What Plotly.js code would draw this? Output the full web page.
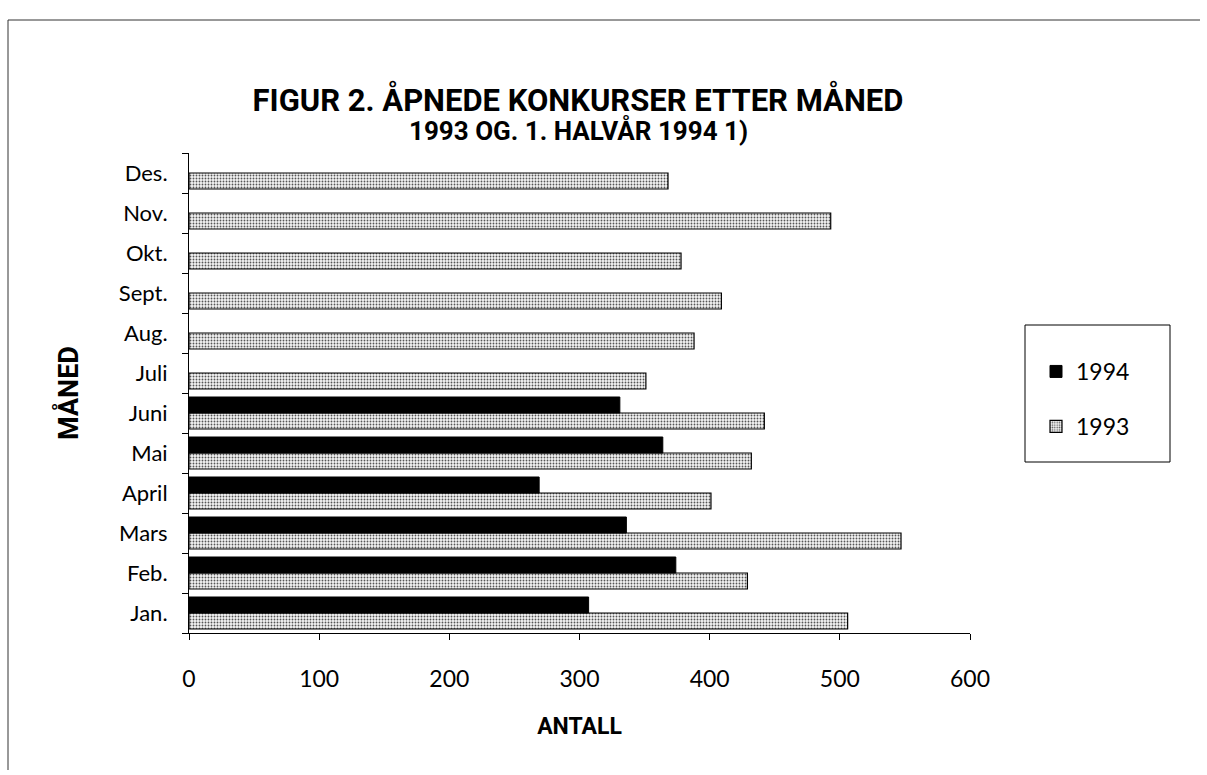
<!DOCTYPE html>
<html>
<head>
<meta charset="utf-8">
<script src="https://cdn.plot.ly/plotly-3.0.1.min.js"></script>
<style>html,body{margin:0;padding:0;background:#fff;}#chart{width:1207px;height:775px;}</style>
</head>
<body>
<div id="chart"></div>
<script>
// Data
const months = ["Jan.", "Feb.", "Mars", "April", "Mai", "Juni", "Juli", "Aug.", "Sept.", "Okt.", "Nov.", "Des."];
const values1993 = [506, 429, 547, 401, 432, 442, 351, 388, 409, 378, 493, 368];
const values1994 = [307, 374, 336, 269, 364, 331, null, null, null, null, null, null];
const xTicks = [0, 100, 200, 300, 400, 500, 600];
const titleText = 'FIGUR 2. ÅPNEDE KONKURSER ETTER MÅNED';
const subtitleText = '1993 OG. 1. HALVÅR 1994 1)';

// Layout geometry (pixels)
const W = 1207, H = 775;
const L = 189, R = 237, T = 153, B = 142;
const PW = W - L - R, PH = H - T - B;
const px = v => (v - L) / PW;
const py = v => (H - B - v) / PH;

const traces = [
  {
    type: 'bar', orientation: 'h', name: '1993', legendgroup: 'g1993', legendrank: 2,
    y: months, x: values1993,
    marker: {
      color: '#e6e6e6',
      line: {color: '#000', width: 1.2},
      pattern: {shape: '.', bgcolor: '#f4f4f4', fgcolor: '#555', size: 3, solidity: 0.3}
    }
  },
  {
    type: 'bar', orientation: 'h', name: '1994', legendgroup: 'g1994', legendrank: 1,
    y: months, x: values1994,
    marker: {color: '#000', line: {color: '#000', width: 1}}
  }
];

const layout = {
  width: W, height: H,
  margin: {l: L, r: R, t: T, b: B, pad: 0},
  paper_bgcolor: '#fff', plot_bgcolor: '#fff',
  barmode: 'group', bargap: 0.2, bargroupgap: 0,
  font: {family: 'Lato, "Open Sans", sans-serif', color: '#000'},
  title: {
    text: '<b>' + titleText + '</b>',
    font: {family: 'Roboto, sans-serif', size: 31, color: '#000'},
    x: 578 / W, xanchor: 'center', xref: 'container',
    y: 1 - 100 / H, yanchor: 'middle', yref: 'container'
  },
  annotations: [
    {text: '<b>' + subtitleText + '</b>', xref: 'paper', yref: 'paper',
     x: px(578), y: py(130), xanchor: 'center', yanchor: 'middle', showarrow: false,
     font: {family: 'Roboto, sans-serif', size: 26, color: '#000'}}
  ],
  xaxis: {
    range: [0, 600], tickvals: xTicks, ticktext: xTicks.map(String),
    showgrid: false, zeroline: false,
    showline: true, linecolor: '#000', linewidth: 1,
    ticks: 'outside', ticklen: 6, tickcolor: '#000',
    ticklabelstandoff: 19,
    tickfont: {family: 'Lato, sans-serif', size: 23, color: '#000'},
    title: {text: '<b>ANTALL</b>', font: {family: 'Roboto, sans-serif', size: 23, color: '#000'}, standoff: 27},
    fixedrange: true
  },
  yaxis: {
    type: 'category', categoryorder: 'array', categoryarray: months,
    showgrid: false, zeroline: false,
    showline: true, linecolor: '#000', linewidth: 1,
    ticks: 'outside', ticklen: 6, tickcolor: '#000', tickson: 'boundaries',
    ticklabelstandoff: 16,
    tickfont: {family: 'Lato, sans-serif', size: 22, color: '#000'},
    title: {text: '<b>MÅNED</b>', font: {family: 'Roboto, sans-serif', size: 27, color: '#000'}, standoff: 32},
    fixedrange: true
  },
  showlegend: true,
  legend: {
    x: px(1036), y: py(350), xanchor: 'left', yanchor: 'top',
    traceorder: 'grouped', tracegroupgap: 22,
    bgcolor: 'rgba(0,0,0,0)', borderwidth: 0,
    font: {family: 'Lato, sans-serif', size: 23, color: '#000'}
  },
  shapes: [
    {type: 'rect', xref: 'paper', yref: 'paper', x0: px(1025), x1: px(1170), y0: py(325), y1: py(462), line: {color: '#000', width: 1}},
    {type: 'line', xref: 'paper', yref: 'paper', x0: px(8), x1: px(1200), y0: py(20), y1: py(20), line: {color: '#333', width: 1}},
    {type: 'line', xref: 'paper', yref: 'paper', x0: px(8), x1: px(8), y0: py(20), y1: py(770), line: {color: '#333', width: 1}}
  ]
};

Plotly.newPlot('chart', traces, layout, {displayModeBar: false, staticPlot: true});
</script>
</body>
</html>
